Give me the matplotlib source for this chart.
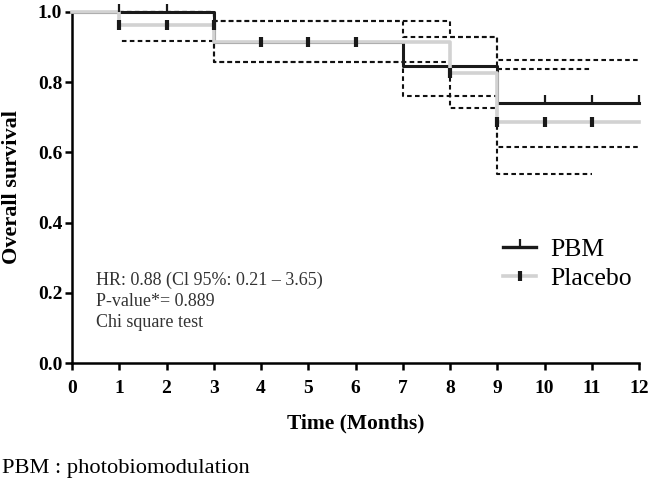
import matplotlib
matplotlib.use("Agg")
import matplotlib.pyplot as plt
from matplotlib.lines import Line2D

plt.rcParams['font.family'] = ['Liberation Serif', 'DejaVu Serif']

# Kaplan-Meier steps
pbm_time = [0, 3, 7, 9, 12]
pbm_surv = [1.0, 0.915, 0.846, 0.74, 0.74]
pbm_ci_time = [1, 3, 7, 9, 12]
pbm_ci_upper = [1.0, 0.974, 0.93, 0.863, 0.863]
pbm_ci_lower = [1.0, 0.858, 0.76, 0.616, 0.616]
pbm_censor_time = [1, 2, 10, 11, 12]
pbm_censor_surv = [1.0, 1.0, 0.74, 0.74, 0.74]

placebo_time = [0, 1, 3, 8, 9, 12]
placebo_surv = [1.0, 0.963, 0.915, 0.825, 0.687, 0.687]
placebo_ci_time = [1, 3, 8, 9, 11]
placebo_ci_upper = [1.0, 0.974, 0.93, 0.837, 0.837]
placebo_ci_lower = [0.918, 0.858, 0.726, 0.538, 0.538]
placebo_censor_time = [1, 2, 3, 4, 5, 6, 8, 9, 10, 11]
placebo_censor_surv = [0.963, 0.963, 0.963, 0.915, 0.915, 0.915, 0.825, 0.687, 0.687, 0.687]

x_ticks = list(range(0, 13))
y_ticks = [0.0, 0.2, 0.4, 0.6, 0.8, 1.0]

stats_lines = ["HR: 0.88 (Cl 95%: 0.21 \u2013 3.65)", "P-value*= 0.889", "Chi square test"]

grey = "#d2d2d2"

fig = plt.figure(figsize=(6.5, 4.87), dpi=100)
ax = fig.add_axes([72 / 650, 1 - 363 / 487, 567 / 650, 351 / 487])

# Confidence bands (dashed)
# the placebo lower band gets a dash offset so it lines up with the PBM band where they overlap (3-7)
dash = dict(color="#111111", lw=1.5, where="post", zorder=1, clip_on=False)
ax.step(pbm_ci_time, pbm_ci_upper, linestyle=(0, (2.2, 1.6)), **dash)
ax.step(pbm_ci_time, pbm_ci_lower, linestyle=(0, (2.2, 1.6)), **dash)
ax.step(placebo_ci_time, placebo_ci_upper, linestyle=(0, (2.2, 1.6)), **dash)
ax.step(placebo_ci_time, placebo_ci_lower, linestyle=(2.41, (2.2, 1.6)), **dash)

# Survival curves
ax.step(pbm_time, pbm_surv, where="post", color="#1a1a1a", lw=2.2, zorder=3, clip_on=False)
ax.step(placebo_time, placebo_surv, where="post", color=grey, lw=2.6, zorder=4, clip_on=False)

# Censor marks
ax.plot(pbm_censor_time, pbm_censor_surv, ls="none", marker=2, ms=6, mew=1.6,
        color="#1a1a1a", zorder=5, clip_on=False)
ax.plot(placebo_censor_time, placebo_censor_surv, ls="none", marker="|", ms=7, mew=3,
        color="#1a1a1a", zorder=5, clip_on=False)

ax.set_xlim(0, 12)
ax.set_ylim(0, 1.0)
ax.set_xticks(x_ticks)
ax.set_yticks(y_ticks)
ax.set_yticklabels([f"{v:.1f}" for v in y_ticks])
for side in ["top", "right"]:
    ax.spines[side].set_visible(False)
for side in ["left", "bottom"]:
    ax.spines[side].set_linewidth(1.8)
ax.tick_params(direction="out", length=5, width=1.8, labelsize=14, pad=2)
ax.tick_params(axis="x", pad=7)
for lbl in ax.get_xticklabels() + ax.get_yticklabels():
    lbl.set_fontweight("bold")

ax.set_xlabel("Time (Months)", fontsize=15.5, fontweight="bold", va="center")
ax.xaxis.set_label_coords(0.5, (363 - 423) / 351)
ax.set_ylabel("Overall survival", fontsize=16, fontweight="bold", va="center")
ax.yaxis.set_label_coords(-60 / 567, 0.5)

# Stats text
for i, line in enumerate(stats_lines):
    ax.text(0.51, 0.236 - i * 0.06, line, fontsize=13, color="#333333", va="center", ha="left")

# Legend
handles = [
    Line2D([], [], color="#1a1a1a", lw=2.4, marker=2, ms=6, mew=1.6, markevery=[1]),
    Line2D([], [], color=grey, lw=2.6, marker="|", ms=7, mew=3, mec="#1a1a1a", markevery=[1]),
]
ax.legend(handles, ["PBM", "Placebo"], loc="center left", bbox_to_anchor=((503 - 72) / 567, (363 - 264) / 351),
          frameon=False, fontsize=18.5, handlelength=1.3, handletextpad=0.55, labelspacing=0.2,
          borderpad=0, borderaxespad=0, numpoints=1)

fig.text(2 / 650, 1 - 468 / 487, "PBM : photobiomodulation", fontsize=16.2, va="center", ha="left")

fig.savefig("out.png", dpi=100)
